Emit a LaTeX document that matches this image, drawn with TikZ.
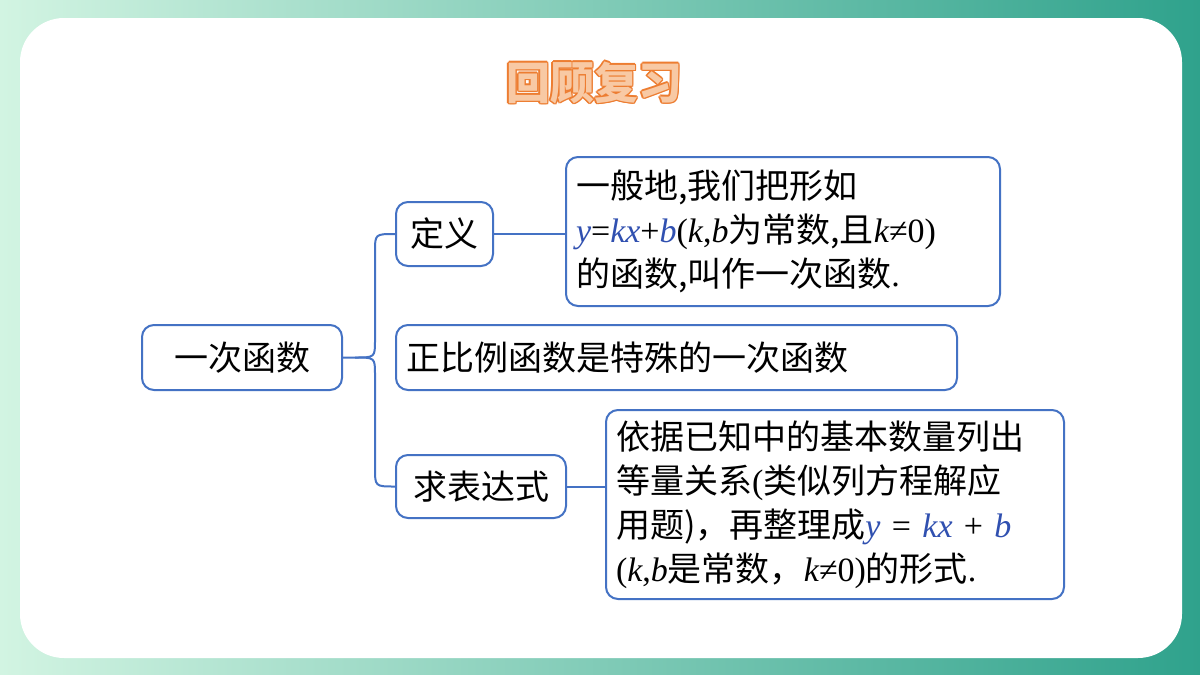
\documentclass[tikz,border=0pt]{standalone}
\usepackage{fontspec}
\setmainfont{Noto Sans CJK SC}
\newfontfamily\serif{Liberation Serif}
\usetikzlibrary{calc}
\definecolor{ln}{HTML}{4472C4}
\definecolor{mblue}{HTML}{3050B0}
\definecolor{ttl}{HTML}{ED7D31}
\definecolor{ttlf}{HTML}{F8C9A4}
\definecolor{gl}{HTML}{D2F4E2}
\definecolor{gr}{HTML}{2FA28C}
\newcommand{\mi}[1]{{\serif\itshape #1}}
\newcommand{\mb}[1]{{\serif\itshape\color{mblue}#1}}
\begin{document}
\begin{tikzpicture}[x=0.5pt,y=-0.5pt,
  bx/.style={draw=ln,line width=1pt,rounded corners=6pt,fill=white,font=\fontsize{17}{22}\selectfont,inner sep=5pt},
  cn/.style={draw=ln,line width=1pt}]
\useasboundingbox (0,0) rectangle (1200,675);
\shade[left color=gl,right color=gr] (0,0) rectangle (1200,675);
\fill[white,rounded corners=22pt] (20,18) rectangle (1182,658);
% title
\foreach \dx/\dy in {-1.5/0,1.5/0,0/-1.5,0/1.5,-1/-1,1/1,-1/1,1/-1}
  \node[text=ttl,font=\fontsize{22}{22}\selectfont\bfseries] at (594+\dx,83+\dy) {回顾复习};
\node[text=ttlf,font=\fontsize{22}{22}\selectfont\bfseries] (title) at (594,83) {回顾复习};
% boxes
\node[bx,minimum width=100pt,minimum height=32.5pt] (root) at (242,357.5) {一次函数};
\node[bx,minimum width=48.5pt,minimum height=32pt] (def) at (444.5,234) {定义};
\node[bx,minimum width=217pt,minimum height=74.5pt,text width=207pt,align=left] (defc) at (783,231.5)
  {一般地,我们把形如\\\mb{y}{\serif =}\mb{kx}{\serif +}\mb{b}{\serif (}\mi{k}{\serif ,}\mi{b}为常数,且\mi{k}{\serif ≠0)}\\的函数,叫作一次函数{\serif .}};
\node[bx,minimum width=280.5pt,minimum height=32.5pt,text width=270pt,align=left] (prop) at (676.5,357.5) {正比例函数是特殊的一次函数};
\node[bx,minimum width=85pt,minimum height=31.5pt] (expr) at (481,486.5) {求表达式};
\node[bx,minimum width=229pt,minimum height=94.5pt,text width=219pt,align=left] (exprc) at (835,504.5)
  {依据已知中的基本数量列出\\等量关系{\serif (}类似列方程解应\\用题)，再整理成\mb{y}{\serif\ = }\mb{kx}{\serif\ + }\mb{b}\\{\serif (}\mi{k}{\serif ,}\mi{b}是常数，\mi{k}{\serif ≠0)}的形式{\serif .}};
% connectors
\coordinate (j) at (375,357.5);
\draw[cn] (root.east) -- (355,357.5) .. controls (375,357.5) .. (375,340) -- (375,252) .. controls (375,234) .. (def.west);
\draw[cn] (355,357.5) .. controls (375,357.5) .. (375,375) -- (375,468) .. controls (375,486.5) .. (expr.west);
\draw[cn] (def.east) -- (defc.west|-def.east);
\draw[cn] (expr.east) -- (exprc.west|-expr.east);
\end{tikzpicture}
\end{document}
